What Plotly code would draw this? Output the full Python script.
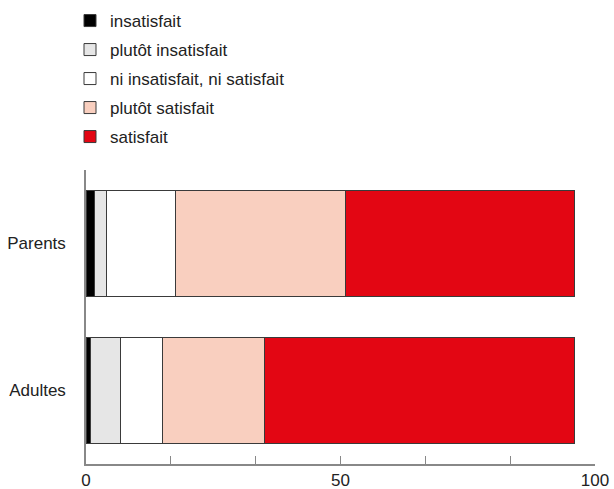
import plotly.graph_objects as go

groups = ["Parents", "Adultes"]
categories = ["insatisfait", "plutôt insatisfait", "ni insatisfait, ni satisfait",
              "plutôt satisfait", "satisfait"]
parents = [1.6, 2.5, 13.4, 33.4, 45.0]
adultes = [0.9, 5.8, 8.3, 20.0, 60.9]
colors = ["#000000", "#e6e6e6", "#ffffff", "#f9cfbf", "#e30613"]
x_tickvals = [0, 100/6, 200/6, 50, 400/6, 500/6, 100]
x_ticktext = ["0", "", "", "50", "", "", "100"]

fig = go.Figure()
for i, cat in enumerate(categories):
    fig.add_trace(go.Bar(
        y=groups, x=[parents[i], adultes[i]], name=cat, orientation="h",
        width=0.72, legendgroup=cat,
        marker=dict(color=colors[i], line=dict(color="#3a3a3a", width=1)),
    ))

fig.update_layout(
    width=614, height=489,
    barmode="stack",
    plot_bgcolor="white", paper_bgcolor="white",
    margin=dict(l=86, r=19, t=170, b=25, autoexpand=False),
    font=dict(family="Liberation Sans, Arial, sans-serif", size=17, color="#222"),
    legend=dict(xref="container", yref="container",
                x=70/614, y=1 - 3/489, xanchor="left", yanchor="top",
                traceorder="grouped", tracegroupgap=3.9,
                font=dict(size=17, color="#222"), bgcolor="rgba(0,0,0,0)"),
    xaxis=dict(range=[0, 100], tickvals=x_tickvals, ticktext=x_ticktext,
               ticks="inside", ticklen=8, tickcolor="#888", tickwidth=1,
               showline=True, linecolor="#888", linewidth=1.5,
               showgrid=False, zeroline=False, automargin=False,
               ticklabelstandoff=0,
               tickfont=dict(size=17, color="#222")),
    yaxis=dict(range=[-0.5, 1.5], categoryorder="array",
               categoryarray=["Adultes", "Parents"],
               showline=True, linecolor="#888", linewidth=1.5,
               showgrid=False, zeroline=False, ticks="", automargin=False,
               ticklabelstandoff=15, tickfont=dict(size=17, color="#222")),
)

fig.write_html("out.html", config={"displayModeBar": False},
               post_script="document.body.style.margin='0';document.body.style.overflow='hidden';")
